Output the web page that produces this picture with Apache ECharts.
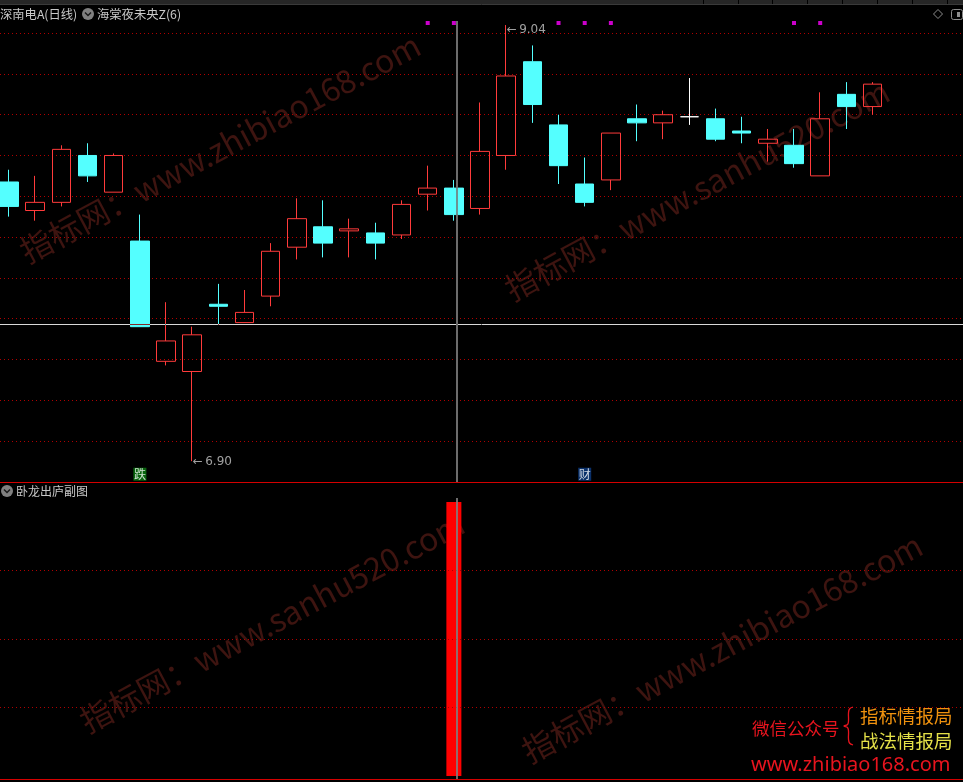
<!DOCTYPE html>
<html><head><meta charset="utf-8">
<script src="https://cdn.jsdelivr.net/npm/echarts@6/dist/echarts.min.js"></script>
<style>html,body{margin:0;padding:0;background:#000;}#c{width:963px;height:782px;}</style>
</head><body><div id="c"></div>
<script>
// ---- data ----
const dayIndex = [0,1,2,3,4,5,6,7,8,9,10,11,12,13,14,15,16,17,18,19,20,21,22,23,24,25,26,27,28,29,30,31,32,33];
const opens  = [8.27,8.13,8.17,8.40,8.22,7.98,7.39,7.34,7.67,7.58,7.71,7.95,8.05,8.03,8.02,8.01,8.21,8.24,8.14,8.40,8.86,8.55,8.26,8.28,8.58,8.56,8.59,8.58,8.52,8.46,8.45,8.30,8.70,8.64];
const closes = [8.15,8.17,8.43,8.30,8.40,7.56,7.49,7.52,7.66,7.63,7.93,8.09,7.97,8.04,7.97,8.16,8.24,8.11,8.42,8.79,8.65,8.35,8.17,8.51,8.56,8.60,8.59,8.48,8.51,8.48,8.36,8.58,8.64,8.75];
const lows   = [8.10,8.08,8.15,8.27,8.22,7.56,7.37,6.90,7.57,7.58,7.66,7.89,7.90,7.90,7.89,7.99,8.13,8.08,8.11,8.33,8.56,8.26,8.15,8.23,8.47,8.48,8.55,8.47,8.46,8.37,8.34,8.30,8.53,8.60];
const highs  = [8.33,8.30,8.45,8.46,8.41,8.11,7.68,7.56,7.77,7.74,7.97,8.19,8.18,8.09,8.07,8.18,8.35,8.28,8.66,9.04,8.94,8.60,8.39,8.51,8.65,8.62,8.78,8.63,8.59,8.53,8.53,8.71,8.76,8.76];
const subValues = [0,0,0,0,0,0,0,0,0,0,0,0,0,0,0,0,0,1,0,0,0,0,0,0,0,0,0,0,0,0,0,0,0,0];
const dotIdx = [16,17,21,22,23,30,31];
const dotLevel = 9.05;
const signalIdx = [5,22];
const signalText = ['跌','财'];
const signalColor = ['#0b7d12','#0d3c84'];
const signalLevel = 6.836;
const extremeIdx = [19,7];
const extremeVal = [9.04,6.90];
const priceRange = [6.8, 9.1];
const priceGridLevels = [7.0,7.2,7.4,7.6,7.8,8.0,8.2,8.4,8.6,8.8,9.0];
const dayRange = [-0.3466, 36.458];
const subGridLevels = [0.25,0.5,0.75];

const RED='#ff3b3b', CYAN='#54ffff', GRIDC='#b00000', TXT='#c8c8c8';
const FONT='"Noto Sans CJK SC","Noto Sans",sans-serif';

const chart = echarts.init(document.getElementById('c'), null, {renderer:'canvas'});
const hiddenX = (g)=>({type:'value',gridIndex:g,min:dayRange[0],max:dayRange[1],axisLine:{show:false},axisTick:{show:false},axisLabel:{show:false},splitLine:{show:false}});
const dotted = {color:GRIDC,type:[1,3],width:1};
const wm = (text,x,y)=>({type:'text',x:x,y:y,rotation:0.49,z:1,silent:true,style:{text:text,fill:'#3e1410',font:'32px '+FONT,textAlign:'center',textVerticalAlign:'middle'}});
const txt = (text,x,y,color,size,family)=>({type:'text',x:x,y:y,z:10,silent:true,style:{text:text,fill:color,font:size+'px '+(family||FONT),textAlign:'left',textVerticalAlign:'middle'}});
const icon = (cx,cy)=>({type:'group',z:10,children:[
  {type:'circle',z:10,shape:{cx:cx,cy:cy,r:6},style:{fill:'#808080'}},
  {type:'polyline',z:11,shape:{points:[[cx-3,cy-1.5],[cx,cy+1.5],[cx+3,cy-1.5]]},style:{stroke:'#1a1a1a',lineWidth:1.5,fill:null}}
]});
const seps=[703,738,772,807,842,877,912,947];

const option = {
  backgroundColor:'#000',
  animation:false,
  grid:[{left:0,top:12.82,width:963,height:468.74},{left:0,top:502,width:963,height:274}],
  xAxis:[hiddenX(0),hiddenX(1)],
  yAxis:[
    {type:'value',gridIndex:0,min:priceRange[0],max:priceRange[1],axisLine:{show:false},axisTick:{show:false},axisLabel:{show:false},splitLine:{show:false}},
    {type:'value',gridIndex:1,min:0,max:1,axisLine:{show:false},axisTick:{show:false},axisLabel:{show:false},splitLine:{show:false}}
  ],
  series:[
    {type:'candlestick',xAxisIndex:0,yAxisIndex:0,barWidth:19,z:3,
     encode:{x:0,y:[1,2,3,4]},
     data:dayIndex.map((d,i)=>[d,opens[i],closes[i],lows[i],highs[i]]),
     itemStyle:{color:'rgba(0,0,0,0)',color0:CYAN,borderColor:RED,borderColor0:CYAN,borderColorDoji:'#ffffff',borderWidth:1},
     markLine:{silent:true,symbol:'none',label:{show:false},lineStyle:dotted,z:1,data:priceGridLevels.map(v=>({yAxis:v}))}},
    {type:'scatter',xAxisIndex:0,yAxisIndex:0,symbol:'rect',symbolSize:4,itemStyle:{color:'#ff00ff'},
     data:dotIdx.map(i=>[i,dotLevel])},
    {type:'scatter',xAxisIndex:0,yAxisIndex:0,symbol:'rect',symbolSize:[13,13],z:5,
     data:signalIdx.map((i,k)=>({value:[i,signalLevel],itemStyle:{color:signalColor[k]}})),
     label:{show:true,position:'inside',color:'#ffffff',fontSize:12,fontFamily:'Noto Sans CJK SC',formatter:p=>signalText[p.dataIndex]}},
    {type:'scatter',xAxisIndex:0,yAxisIndex:0,symbolSize:1,itemStyle:{color:'rgba(0,0,0,0)'},z:5,
     data:extremeIdx.map((i,k)=>({value:[i,extremeVal[k]],label:{offset:k===0?[0,5]:[0,1]}})),
     label:{show:true,position:'right',distance:0,color:TXT,fontSize:12,fontFamily:'DejaVu Sans',formatter:p=>'\u2190\u2009'+p.value[1].toFixed(2)}},
    {type:'bar',xAxisIndex:1,yAxisIndex:1,barWidth:15,data:dayIndex.map((d,i)=>[d,subValues[i]]),itemStyle:{color:'#ff0000'},
     markLine:{silent:true,symbol:'none',label:{show:false},lineStyle:dotted,data:subGridLevels.map(v=>({yAxis:v}))}}
  ],
  graphic:[
    wm('指标网：www.zhibiao168.com',220,148),
    wm('指标网：www.sanhu520.com',697,190),
    wm('指标网：www.sanhu520.com',272,622),
    wm('指标网：www.zhibiao168.com',722,648),
    {type:'rect',z:10,shape:{x:0,y:0,width:963,height:4},style:{fill:'#262626'}},
    ...seps.map(x=>({type:'rect',z:11,shape:{x:x,y:0,width:1,height:4},style:{fill:'#000'}})),
    {type:'line',z:10,shape:{x1:0,y1:4.5,x2:963,y2:4.5},style:{stroke:'#3a3a3a',lineWidth:1}},
    txt('深南电A(日线)',0,14,TXT,12.3),
    icon(88,14),
    txt('海棠夜未央Z(6)',97,14,TXT,12.3),
    {type:'polygon',z:10,shape:{points:[[938,9.5],[942.5,14],[938,18.5],[933.5,14]]},style:{stroke:'#8c8c8c',fill:null,lineWidth:1}},
    {type:'rect',z:10,shape:{x:951.5,y:9.5,width:11,height:10,r:2},style:{stroke:'#8c8c8c',fill:null,lineWidth:1}},
    {type:'rect',z:10,shape:{x:957,y:12,width:3,height:5},style:{fill:'#8c8c8c'}},
    {type:'line',z:10,shape:{x1:0,y1:482.5,x2:963,y2:482.5},style:{stroke:'#d40000',lineWidth:1.2}},
    {type:'line',z:10,shape:{x1:0,y1:779.5,x2:963,y2:779.5},style:{stroke:'#d40000',lineWidth:1.2}},
    icon(7,491),
    txt('卧龙出庐副图',16,491,TXT,12),
    {type:'line',z:100,shape:{x1:457,y1:21,x2:457,y2:482},style:{stroke:'#d8d8d8',lineWidth:1,blend:'difference'}},
    {type:'line',z:100,shape:{x1:457,y1:498,x2:457,y2:779},style:{stroke:'#d8d8d8',lineWidth:1,blend:'difference'}},
    {type:'line',z:100,shape:{x1:0,y1:324.5,x2:963,y2:324.5},style:{stroke:'#d8d8d8',lineWidth:1,blend:'difference'}},
    txt('微信公众号',752,728,'#e8141e',17.5),
    {type:'polyline',z:10,shape:{smooth:0.4,points:[[853,707],[849.5,709],[848.5,713],[848.5,721],[847.5,724.5],[844,726],[847.5,727.5],[848.5,731],[848.5,739],[849.5,743],[853,745]]},style:{stroke:'#e8141e',fill:null,lineWidth:1.3}},
    txt('指标情报局',860,716,'#f0920e',18.5),
    txt('战法情报局',860,741,'#e4e048',18.5),
    txt('www.zhibiao168.com',751,765,'#e8141e',20,'"Noto Sans",sans-serif')
  ]
};
chart.setOption(option);
</script></body></html>
